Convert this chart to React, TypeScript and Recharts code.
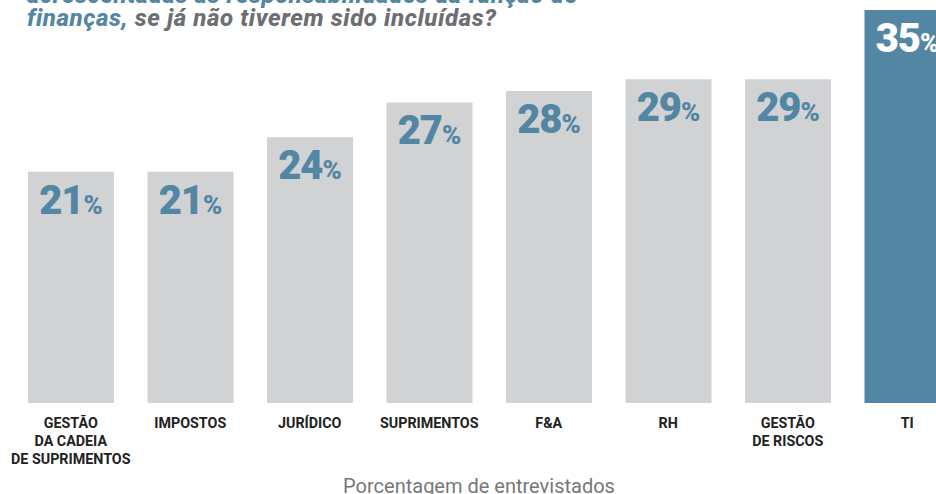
import { BarChart, Bar, XAxis, YAxis, Cell, LabelList } from 'recharts';

const categories = [
  'GESTÃO\nDA CADEIA\nDE SUPRIMENTOS',
  'IMPOSTOS',
  'JURÍDICO',
  'SUPRIMENTOS',
  'F&A',
  'RH',
  'GESTÃO\nDE RISCOS',
  'TI',
];
const values = [21, 21, 24, 27, 28, 29, 29, 35];
const highlight = [false, false, false, false, false, false, false, true];

const data = categories.map((name, i) => ({ name, value: values[i], hi: highlight[i] }));

const GREY = '#d1d2d4';
const BLUE = '#5286a3';
const FONT = 'Roboto, "Noto Sans", sans-serif';

const CategoryTick = (props: any) => {
  const { x, y, payload } = props;
  const lines = String(payload.value).split('\n');
  return (
    <text x={x} y={y + 17} textAnchor="middle" fontFamily={FONT} fontWeight={700} fontSize={14.3} fill="#222">
      {lines.map((l, i) => (
        <tspan key={i} x={x} dy={i === 0 ? 0 : 18}>{l}</tspan>
      ))}
    </text>
  );
};

const ValueLabel = (props: any) => {
  const { x, y, width, value, index } = props;
  const cx = x + width / 2;
  const color = highlight[index] ? '#ffffff' : BLUE;
  return (
    <text x={cx} y={y + 42} textAnchor="middle" fontFamily={FONT} fontWeight={900} fill={color}>
      <tspan fontSize={40} letterSpacing={-1}>{value}</tspan>
      <tspan fontSize={26}>%</tspan>
    </text>
  );
};

export default function App() {
  return (
    <div style={{ position: 'absolute', left: 0, top: 0, width: 936, height: 494, overflow: 'hidden', background: '#fff' }}>
      <div style={{ position: 'absolute', left: 27, top: -16, fontFamily: FONT, fontWeight: 800, fontStyle: 'italic', fontSize: 24, lineHeight: '23px', letterSpacing: 0.6, whiteSpace: 'nowrap' }}>
        <div style={{ color: BLUE }}>acrescentadas às responsabilidades da função de</div>
        <div>
          <span style={{ color: BLUE }}>finanças,</span>
          <span style={{ color: '#6d6e71' }}> se já não tiverem sido incluídas?</span>
        </div>
      </div>
      <BarChart width={980} height={494} data={data} margin={{ top: 10, right: 13, bottom: 0, left: 11 }} barSize={86}>
        <YAxis hide domain={[1, 35]} />
        <XAxis dataKey="name" axisLine={false} tickLine={false} height={91} tick={<CategoryTick />} interval={0} />
        <Bar dataKey="value" isAnimationActive={false}>
          {data.map((d, i) => (
            <Cell key={i} fill={d.hi ? BLUE : GREY} />
          ))}
          <LabelList dataKey="value" content={<ValueLabel />} />
        </Bar>
      </BarChart>
      <div style={{ position: 'absolute', left: 0, width: 958, top: 474, textAlign: 'center', fontFamily: FONT, fontSize: 20, lineHeight: '24px', color: '#777' }}>
        Porcentagem de entrevistados
      </div>
    </div>
  );
}
